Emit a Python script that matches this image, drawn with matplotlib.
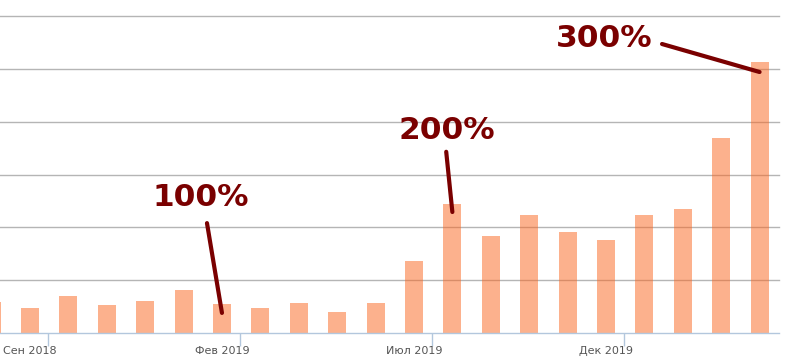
import numpy as np
import matplotlib
matplotlib.use('Agg')
import matplotlib.pyplot as plt

## data: monthly values, Jul 2018 .. Mar 2020 (one bar per month)
months = ['Июл 2018', 'Авг 2018', 'Сен 2018', 'Окт 2018', 'Ноя 2018', 'Дек 2018',
          'Янв 2019', 'Фев 2019', 'Мар 2019', 'Апр 2019', 'Май 2019', 'Июн 2019',
          'Июл 2019', 'Авг 2019', 'Сен 2019', 'Окт 2019', 'Ноя 2019', 'Дек 2019',
          'Янв 2020', 'Фев 2020', 'Мар 2020']
values = [0.59, 0.47, 0.70, 0.53, 0.61, 0.81, 0.55, 0.47, 0.57, 0.40, 0.57,
          1.36, 2.44, 1.84, 2.23, 1.91, 1.76, 2.23, 2.35, 3.69, 5.13]
tick_labels = ['Сен 2018', 'Фев 2019', 'Июл 2019', 'Дек 2019']

## callouts: text, bar index it points at
callouts = ['100%', '200%', '300%']
callout_bars = [6, 12, 20]

# layout of the callouts (text centre, line start, drop below bar top)
callout_text_xy = [(5.98, 2.57), (12.39, 3.84), (16.48, 5.58)]
callout_line_start = [(6.14, 2.08), (12.37, 3.43), (17.99, 5.47)]
callout_drop = [0.17, 0.15, 0.19]

bar_off = 0.53
bar_w = 0.47
dark_red = '#7a0000'
axis_blue = '#b3c7dd'

fig = plt.figure(figsize=(7.97, 3.58), dpi=100)
ax = fig.add_axes([0, 25/358, 779/797, 317/358])

x = np.arange(len(values)) + bar_off
ax.bar(x, values, width=bar_w, color='#fb651d', alpha=0.5, zorder=2, linewidth=0)

ax.set_xlim(0.75, 21.036)
ax.set_ylim(0, 6)
ax.set_yticks(np.arange(1, 7))
ax.yaxis.grid(True, color='#b5b5b5', linewidth=1, zorder=1)
ax.set_axisbelow(True)
ax.tick_params(axis='y', left=False, labelleft=False)
for g in ax.get_ygridlines():
    g.set_clip_on(False)

for s in ['top', 'left', 'right']:
    ax.spines[s].set_visible(False)
ax.spines['bottom'].set_color(axis_blue)
ax.spines['bottom'].set_linewidth(1)

# ticks at month starts, labels sit on the bar just before each tick
tick_idx = [months.index(t) for t in tick_labels]
ax.set_xticks(tick_idx)
ax.set_xticklabels([''] * len(tick_idx))
ax.tick_params(axis='x', which='major', length=9, width=1, color=axis_blue)
ax.set_xticks([i - 1 + bar_off for i in tick_idx], minor=True)
ax.set_xticklabels(tick_labels, minor=True, fontsize=8, color='#555555',
                   family='DejaVu Sans')
ax.tick_params(axis='x', which='minor', length=0, pad=9)

for txt, bi, txy, ls, dr in zip(callouts, callout_bars, callout_text_xy,
                                callout_line_start, callout_drop):
    ax.text(txy[0], txy[1], txt, ha='center', va='center', fontsize=22.5,
            fontweight='bold', family='DejaVu Sans', color=dark_red, zorder=5)
    ax.plot([ls[0], x[bi]], [ls[1], values[bi] - dr], color=dark_red,
            linewidth=3, solid_capstyle='round', zorder=5, clip_on=False)

fig.savefig('out.png', dpi=100)
